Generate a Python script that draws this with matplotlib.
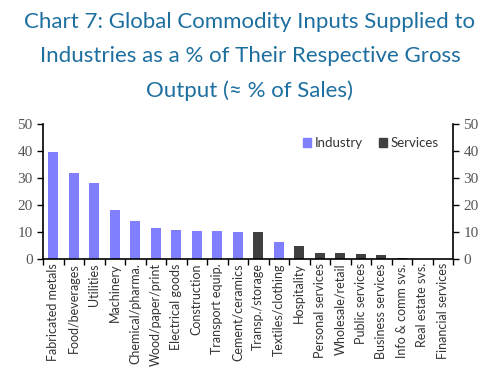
import matplotlib
matplotlib.use("Agg")
import matplotlib.pyplot as plt
import numpy as np
from matplotlib.patches import Patch

plt.rcParams['font.family'] = ['Lato', 'DejaVu Sans']

categories = ["Fabricated metals", "Food/beverages", "Utilities", "Machinery",
              "Chemical/pharma.", "Wood/paper/print", "Electrical goods",
              "Construction", "Transport equip.", "Cement/ceramics",
              "Transp./storage", "Textiles/clothing", "Hospitality",
              "Personal services", "Wholesale/retail", "Public services",
              "Business services", "Info & comm svs.", "Real estate svs.",
              "Financial services"]
values = [39.5, 32.0, 28.0, 18.0, 14.0, 11.5, 10.8, 10.3, 10.3, 10.0,
          10.0, 6.3, 5.0, 2.2, 2.2, 1.8, 1.4, 0.5, 0.1, 0.05]
sector = ["Industry"] * 10 + ["Services", "Industry"] + ["Services"] * 8
title_lines = ["Chart 7: Global Commodity Inputs Supplied to",
               "Industries as a % of Their Respective Gross",
               "Output (≈ % of Sales)"]

colors = {"Industry": "#8080ff", "Services": "#404040"}

fig = plt.figure(figsize=(5, 3.84), dpi=100)
ax = fig.add_axes([0.086, 0.3255, 0.82, 0.3515])
x = np.arange(len(categories))
ax.bar(x, values, width=0.5, color=[colors[s] for s in sector])
ax.set_xlim(-0.5, len(categories) - 0.5)
ax.set_ylim(0, 50)
ax.set_yticks(range(0, 51, 10))
ax.set_xticks(x)
ax.set_xticklabels(categories, rotation=90, fontsize=9, color="#333333")
ax.tick_params(axis='x', length=0, pad=3)
ax.set_xticks(np.arange(-0.5, len(categories), 1), minor=True)
ax.tick_params(axis='x', which='minor', length=4, direction='out', width=1)
ax.tick_params(axis='y', labelsize=11, length=4, direction='out', width=1, labelcolor="#555555")
for lbl in ax.get_yticklabels():
    lbl.set_family(['Liberation Serif'])
for s in ['top', 'right']:
    ax.spines[s].set_visible(False)
ax.spines['left'].set_linewidth(1.2)
ax.spines['bottom'].set_linewidth(1.2)

ax2 = ax.twinx()
ax2.set_ylim(0, 50)
ax2.set_yticks(range(0, 51, 10))
ax2.tick_params(axis='y', labelsize=11, length=4, direction='out', width=1, labelcolor="#555555")
for lbl in ax2.get_yticklabels():
    lbl.set_family(['Liberation Serif'])
for s in ['top', 'left', 'bottom']:
    ax2.spines[s].set_visible(False)
ax2.spines['right'].set_linewidth(1.2)

handles = [Patch(color=colors["Industry"], label="Industry"),
           Patch(color=colors["Services"], label="Services")]
ax.legend(handles=handles, loc='upper right', bbox_to_anchor=(0.995, 0.99), ncol=2,
          frameon=False, fontsize=9.5, handlelength=0.6, handleheight=0.6,
          handletextpad=0.3, columnspacing=1.2, labelcolor="#333333")

for yb, line in zip([0.927, 0.839, 0.748], title_lines):
    fig.text(0.5, yb, line, ha='center', va='baseline', fontsize=16, color="#1d6fa0")

fig.savefig("out.png", dpi=100)
